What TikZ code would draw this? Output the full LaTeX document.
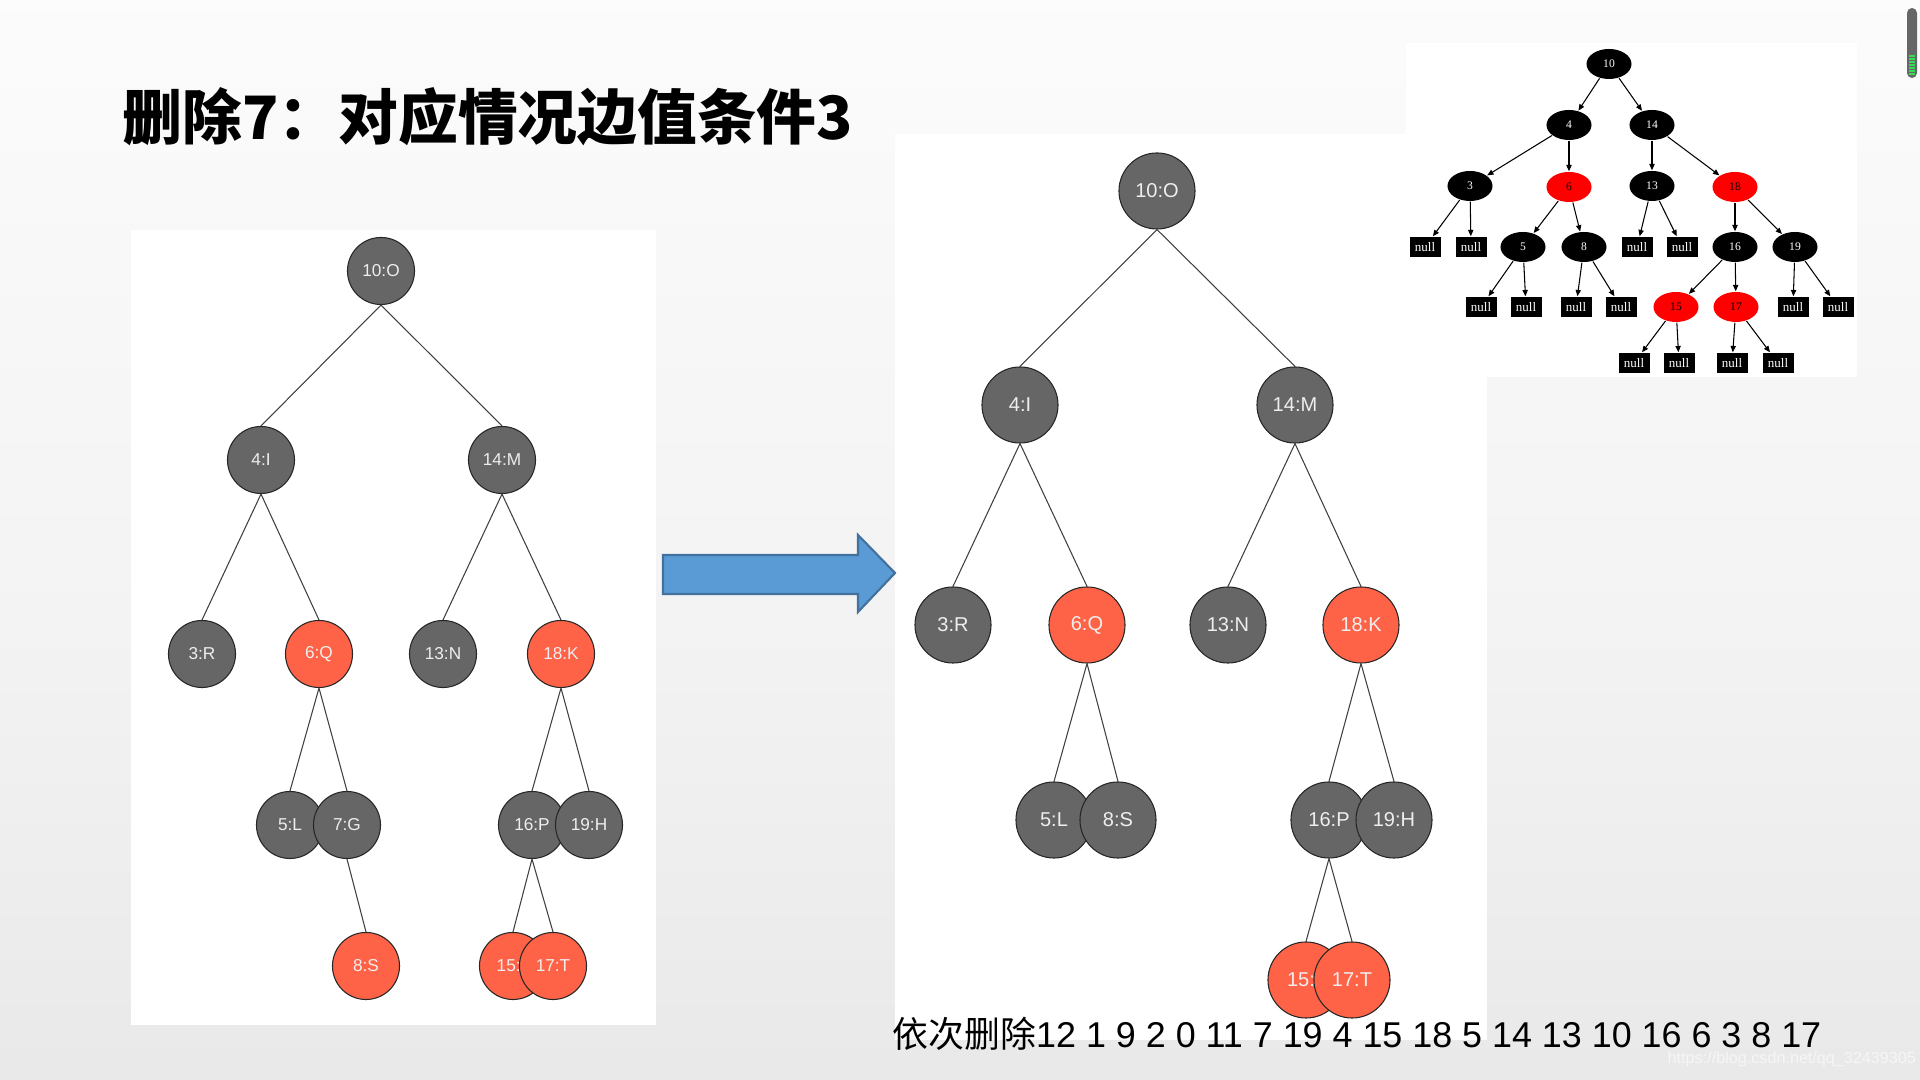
\documentclass[tikz,border=0pt]{standalone}
\usepackage{fontspec}
\setmainfont{Liberation Sans}
\newfontfamily\cjk{Noto Sans CJK SC}
\newfontfamily\gvfont{Liberation Serif}
\usepackage{tikz}
\usetikzlibrary{arrows.meta,shapes.geometric}
\definecolor{nodegray}{HTML}{666666}
\definecolor{tomato}{HTML}{FF6347}
\definecolor{labelgray}{HTML}{EEEEEE}
\definecolor{arrowblue}{HTML}{5B9BD5}
\definecolor{arrowedge}{HTML}{41719C}
\definecolor{bgbot}{HTML}{DCDCDC}
\definecolor{bglow}{HTML}{E0E0E0}
\definecolor{bgmid}{HTML}{F3F3F3}
\definecolor{bghigh}{HTML}{F8F8F8}
\definecolor{scrollgreen}{HTML}{33DD55}
\definecolor{markgray}{HTML}{F6F6F6}
\pgfdeclareverticalshading{slidebg}{100bp}{color(0bp)=(bgbot); color(7bp)=(bglow); color(46bp)=(bgmid); color(63bp)=(bghigh); color(86bp)=(white); color(100bp)=(white)}

\begin{document}
\begin{tikzpicture}[x=0.01cm,y=-0.01cm,every node/.style={inner sep=0pt},
  lnode/.style={circle,draw=black!85,line width=0.3pt,fill=nodegray,minimum size=0.67cm,text=labelgray,font=\fontsize{4.9pt}{6pt}\selectfont},
  rnode/.style={lnode,minimum size=0.76cm,font=\fontsize{5.7pt}{7pt}\selectfont},
  hot/.style={fill=tomato},
  tedge/.style={draw=black!75,line width=0.3pt},
  gvnode/.style={ellipse,fill=black,minimum width=0.45cm,minimum height=0.30cm,text=white,font=\gvfont\fontsize{3.3pt}{4pt}\selectfont},
  gvnull/.style={rectangle,fill=black,minimum width=0.31cm,minimum height=0.20cm,text=white,font=\gvfont\fontsize{3.7pt}{4pt}\selectfont},
  gvred/.style={fill=red,text=black},
  gvedge/.style={-{Triangle[length=1.8pt,width=1.5pt]},line width=0.3pt}]
\useasboundingbox (0,0) rectangle (1920,1080);
\shade[shading=slidebg] (0,0) rectangle (1920,1080);
\fill[white] (131,230) rectangle (656,1025);
\fill[white] (895,134) rectangle (1487,1040);
\fill[white] (1406,43) rectangle (1857,377);
\node[anchor=west,font=\cjk\bfseries\fontsize{17pt}{20pt}\selectfont] (title) at (122,117) {删除7：对应情况边值条件3};
\filldraw[fill=arrowblue,draw=arrowedge,line width=0.6pt] (663,555)--(858,555)--(858,535)--(895,573)--(858,612)--(858,594)--(663,594)--cycle;
% before
\node[lnode] (l10) at (381,271) {10:O};
\node[lnode] (l4) at (261,460) {4:I};
\node[lnode] (l14) at (502,460) {14:M};
\node[lnode] (l3) at (202,654) {3:R};
\node[lnode,hot] (l6) at (319,654) {6:Q};
\node[lnode] (l13) at (443,654) {13:N};
\node[lnode,hot] (l18) at (561,654) {18:K};
\node[lnode] (l5) at (290,825) {5:L};
\node[lnode] (l7) at (347,825) {7:G};
\node[lnode] (l16) at (532,825) {16:P};
\node[lnode] (l19) at (589,825) {19:H};
\node[lnode,hot] (l8) at (366,966) {8:S};
\node[lnode,hot] (l15) at (513,966) {15:J};
\node[lnode,hot] (l17) at (553,966) {17:T};
\draw[tedge] (l10.south)--(l4.north) (l10.south)--(l14.north) (l4.south)--(l3.north) (l4.south)--(l6.north)
  (l14.south)--(l13.north) (l14.south)--(l18.north) (l6.south)--(l5.north) (l6.south)--(l7.north)
  (l18.south)--(l16.north) (l18.south)--(l19.north) (l7.south)--(l8.north) (l16.south)--(l15.north) (l16.south)--(l17.north);
% after
\node[rnode] (r10) at (1157,191) {10:O};
\node[rnode] (r4) at (1020,405) {4:I};
\node[rnode] (r14) at (1295,405) {14:M};
\node[rnode] (r3) at (953,625) {3:R};
\node[rnode,hot] (r6) at (1087,625) {6:Q};
\node[rnode] (r13) at (1228,625) {13:N};
\node[rnode,hot] (r18) at (1361,625) {18:K};
\node[rnode] (r5) at (1054,820) {5:L};
\node[rnode] (r8) at (1118,820) {8:S};
\node[rnode] (r16) at (1329,820) {16:P};
\node[rnode] (r19) at (1394,820) {19:H};
\node[rnode,hot] (r15) at (1306,980) {15:J};
\node[rnode,hot] (r17) at (1352,980) {17:T};
\draw[tedge] (r10.south)--(r4.north) (r10.south)--(r14.north) (r4.south)--(r3.north) (r4.south)--(r6.north)
  (r14.south)--(r13.north) (r14.south)--(r18.north) (r6.south)--(r5.north) (r6.south)--(r8.north)
  (r18.south)--(r16.north) (r18.south)--(r19.north) (r16.south)--(r15.north) (r16.south)--(r17.north);
% graphviz tree
\node[gvnode] (g10) at (1609,64) {10};
\node[gvnode] (g4) at (1569,125) {4};
\node[gvnode] (g14) at (1652,125) {14};
\node[gvnode] (g3) at (1470,186) {3};
\node[gvnode,gvred] (g6) at (1569,187) {6};
\node[gvnode] (g13) at (1652,186) {13};
\node[gvnode,gvred] (g18) at (1735,187) {18};
\node[gvnull] (n3a) at (1425,247) {null};
\node[gvnull] (n3b) at (1471,247) {null};
\node[gvnode] (g5) at (1523,247) {5};
\node[gvnode] (g8) at (1584,247) {8};
\node[gvnull] (n13a) at (1637,247) {null};
\node[gvnull] (n13b) at (1682,247) {null};
\node[gvnode] (g16) at (1735,247) {16};
\node[gvnode] (g19) at (1795,247) {19};
\node[gvnull] (n5a) at (1481,307) {null};
\node[gvnull] (n5b) at (1526,307) {null};
\node[gvnull] (n8a) at (1576,307) {null};
\node[gvnull] (n8b) at (1621,307) {null};
\node[gvnode,gvred] (g15) at (1676,307) {15};
\node[gvnode,gvred] (g17) at (1736,307) {17};
\node[gvnull] (n19a) at (1793,307) {null};
\node[gvnull] (n19b) at (1838,307) {null};
\node[gvnull] (n15a) at (1634,363) {null};
\node[gvnull] (n15b) at (1679,363) {null};
\node[gvnull] (n17a) at (1732,363) {null};
\node[gvnull] (n17b) at (1778,363) {null};
\draw[gvedge] (g10)--(g4);
\draw[gvedge] (g10)--(g14);
\draw[gvedge] (g4)--(g3);
\draw[gvedge] (g4)--(g6);
\draw[gvedge] (g14)--(g13);
\draw[gvedge] (g14)--(g18);
\draw[gvedge] (g3)--(n3a);
\draw[gvedge] (g3)--(n3b);
\draw[gvedge] (g6)--(g5);
\draw[gvedge] (g6)--(g8);
\draw[gvedge] (g13)--(n13a);
\draw[gvedge] (g13)--(n13b);
\draw[gvedge] (g18)--(g16);
\draw[gvedge] (g18)--(g19);
\draw[gvedge] (g5)--(n5a);
\draw[gvedge] (g5)--(n5b);
\draw[gvedge] (g8)--(n8a);
\draw[gvedge] (g8)--(n8b);
\draw[gvedge] (g16)--(g15);
\draw[gvedge] (g16)--(g17);
\draw[gvedge] (g19)--(n19a);
\draw[gvedge] (g19)--(n19b);
\draw[gvedge] (g15)--(n15a);
\draw[gvedge] (g15)--(n15b);
\draw[gvedge] (g17)--(n17a);
\draw[gvedge] (g17)--(n17b);
\node[anchor=base west,font=\fontsize{10.2pt}{12pt}\selectfont] (order) at (892,1048) {{\cjk 依次删除}12 1 9 2 0 11 7 19 4 15 18 5 14 13 10 16 6 3 8 17};
\node[anchor=base west,text=markgray,font=\fontsize{4.6pt}{5pt}\selectfont] (mark) at (1667,1064) {https://blog.csdn.net/qq\_32439305};
\fill[nodegray,rounded corners=0.05cm] (1907,8) rectangle (1917,78);
\draw[scrollgreen,line width=0.3pt] (1909,56)--(1915,56) (1909,59)--(1915,59) (1909,62)--(1915,62) (1909,65)--(1915,65)
  (1909,68)--(1915,68) (1909,71)--(1915,71) (1909,74)--(1915,74);
\end{tikzpicture}
\end{document}
